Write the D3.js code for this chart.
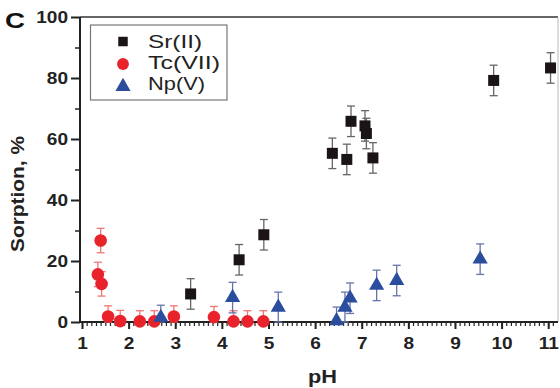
<!DOCTYPE html>
<html><head><meta charset="utf-8">
<script src="https://cdn.jsdelivr.net/npm/d3@7"></script>
<style>body{margin:0;background:#fff}svg{display:block}</style>
</head><body><svg id="c" width="560" height="388"></svg>
<script>
const srPH  = [3.33, 4.37, 4.90, 6.37, 6.68, 6.77, 7.07, 7.10, 7.24, 9.83, 11.05];
const srVal = [9.2, 20.4, 28.6, 55.3, 53.3, 65.8, 64.3, 61.8, 53.8, 79.2, 83.3];
const srErr = [5, 5, 5, 5, 5, 5, 5, 5, 5, 5, 5];
const tcPH  = [1.40, 1.34, 1.42, 1.56, 1.82, 2.24, 2.55, 2.97, 3.83, 4.25, 4.55, 4.89];
const tcVal = [26.7, 15.6, 12.5, 1.8, 0.3, 0.2, 0.2, 1.8, 1.6, 0.2, 0.2, 0.2];
const tcErr = [4, 4, 4, 3.5, 3.5, 3.5, 3.5, 3.5, 3.5, 3.5, 3.5, 3.5];
const npPH  = [2.69, 4.23, 5.21, 6.46, 6.64, 6.75, 7.32, 7.75, 9.54];
const npVal = [1.5, 8.0, 4.8, 0.4, 4.8, 7.8, 12.0, 13.6, 20.6];
const npErr = [4, 5, 5, 4.5, 5, 5, 5, 5, 5];
const xTicks = [1,2,3,4,5,6,7,8,9,10,11];
const yTicks = [0,20,40,60,80,100];
const seriesNames = ["Sr(II)", "Tc(VII)", "Np(V)"];

const svg = d3.select("#c");
const x = d3.scaleLinear().domain([0.957, 11.21]).range([80, 558]);
const y = d3.scaleLinear().domain([0, 100]).range([322, 17]);
const font = "'Liberation Sans', Arial, sans-serif";

function widen(sel, k) {
  sel.each(function() {
    const w = this.getComputedTextLength();
    d3.select(this).attr("textLength", w * k).attr("lengthAdjust", "spacingAndGlyphs");
  });
}

// frame (top and right)
svg.append("line").attr("x1",80).attr("x2",558).attr("y1",y(100)).attr("y2",y(100))
  .attr("stroke","#333").attr("stroke-width",1.5);
svg.append("line").attr("x1",558).attr("x2",558).attr("y1",y(100)).attr("y2",y(0))
  .attr("stroke","#bbb").attr("stroke-width",1);

// x axis
const xMinor = d3.range(10, 112).map(d => d/10).filter(d => d >= 0.96 && d <= 11.2);
const gx = svg.append("g").attr("transform",`translate(0,${y(0)})`);
gx.call(d3.axisBottom(x).tickValues(xMinor).tickSize(4).tickFormat(""));
gx.call(g => g.selectAll(".domain").remove());
gx.selectAll("line").attr("stroke","#222").attr("stroke-width",1.2);
const gx2 = svg.append("g").attr("transform",`translate(0,${y(0)})`)
  .call(d3.axisBottom(x).tickValues(xTicks).tickSize(7).tickPadding(8).tickFormat(d3.format("d")));
gx2.select(".domain").attr("stroke","#222").attr("stroke-width",2.2).attr("d",`M80,0H558`);
gx2.selectAll("line").attr("stroke","#222").attr("stroke-width",2);
gx2.selectAll("text").attr("font-family",font).attr("font-weight","bold").attr("font-size",17).attr("fill","#222");
widen(gx2.selectAll("text"), 1.12);

// y axis
const gy = svg.append("g").attr("transform","translate(80,0)")
  .call(d3.axisLeft(y).tickValues(d3.range(10,100,20)).tickSize(5).tickFormat(""));
gy.select(".domain").remove();
gy.selectAll("line").attr("stroke","#222").attr("stroke-width",1.5);
const gy2 = svg.append("g").attr("transform","translate(80,0)")
  .call(d3.axisLeft(y).tickValues(yTicks).tickSize(9).tickPadding(3));
gy2.select(".domain").attr("stroke","#222").attr("stroke-width",2).attr("d",`M0,${y(100)}V${y(0)}`);
gy2.selectAll("line").attr("stroke","#222").attr("stroke-width",2);
gy2.selectAll("text").attr("font-family",font).attr("font-weight","bold").attr("font-size",17).attr("fill","#222");
widen(gy2.selectAll("text"), 1.12);

// titles
svg.append("text").attr("x",308).attr("y",383)
  .attr("font-family",font).attr("font-weight","bold").attr("font-size",18).attr("fill","#222")
  .attr("textLength",29).attr("lengthAdjust","spacingAndGlyphs").text("pH");
svg.append("text").attr("transform",`translate(24,194) rotate(-90)`).attr("text-anchor","middle")
  .attr("font-family",font).attr("font-weight","bold").attr("font-size",18).attr("fill","#222")
  .attr("textLength",116).attr("lengthAdjust","spacingAndGlyphs").text("Sorption, %");
svg.append("text").attr("x",5).attr("y",28)
  .attr("font-family",font).attr("font-weight","bold").attr("font-size",22).attr("fill","#111")
  .attr("textLength",20).attr("lengthAdjust","spacingAndGlyphs").text("C");

function errBars(ph, val, err, color) {
  const g = svg.append("g").attr("stroke",color).attr("stroke-width",1.3).attr("fill","none");
  ph.forEach((p,i) => {
    const cx = x(p), y1 = y(val[i]+err[i]), y0 = y(Math.max(0,val[i]-err[i]));
    g.append("line").attr("x1",cx).attr("x2",cx).attr("y1",y1).attr("y2",y0);
    g.append("line").attr("x1",cx-4).attr("x2",cx+4).attr("y1",y1).attr("y2",y1);
    g.append("line").attr("x1",cx-4).attr("x2",cx+4).attr("y1",y0).attr("y2",y0);
  });
}
errBars(srPH, srVal, srErr, "#666");
errBars(tcPH, tcVal, tcErr, "#e77");
errBars(npPH, npVal, npErr, "#6674aa");

const sq = d3.symbol().type(d3.symbolSquare).size(121);
const ci = d3.symbol().type(d3.symbolCircle).size(125);
const tr = d3.symbol().type(d3.symbolTriangle).size(100);

svg.append("g").selectAll("path").data(tcPH).join("path")
  .attr("d",ci).attr("transform",(d,i)=>`translate(${x(d)},${y(tcVal[i])})`).attr("fill","#e8232b");
svg.append("g").selectAll("path").data(npPH).join("path")
  .attr("d",tr).attr("transform",(d,i)=>`translate(${x(d)},${y(npVal[i])})`).attr("fill","#2a4d9e");
svg.append("g").selectAll("path").data(srPH).join("path")
  .attr("d",sq).attr("transform",(d,i)=>`translate(${x(d)},${y(srVal[i])})`).attr("fill","#1a1416");

// legend
const lg = svg.append("g");
lg.append("rect").attr("x",90.5).attr("y",25).attr("width",136.5).attr("height",75)
  .attr("fill","#fff").attr("stroke","#777").attr("stroke-width",1.2);
const legColors = ["#1a1416","#e8232b","#2a4d9e"];
const legTypes = [d3.symbolSquare, d3.symbolCircle, d3.symbolTriangle];
const legSizes = [90, 110, 100];
const legMarkY = [41.5, 64, 86.5];
const legBase = [47.5, 69, 90];
const legLen = [54, 72, 57];
seriesNames.forEach((n,i) => {
  lg.append("path").attr("d", d3.symbol().type(legTypes[i]).size(legSizes[i]))
    .attr("transform",`translate(123,${legMarkY[i]})`).attr("fill",legColors[i]);
  lg.append("text").attr("x",148).attr("y",legBase[i]).attr("font-family",font).attr("font-size",18)
    .attr("fill","#222").attr("textLength",legLen[i]).attr("lengthAdjust","spacingAndGlyphs").text(n);
});
</script></body></html>
